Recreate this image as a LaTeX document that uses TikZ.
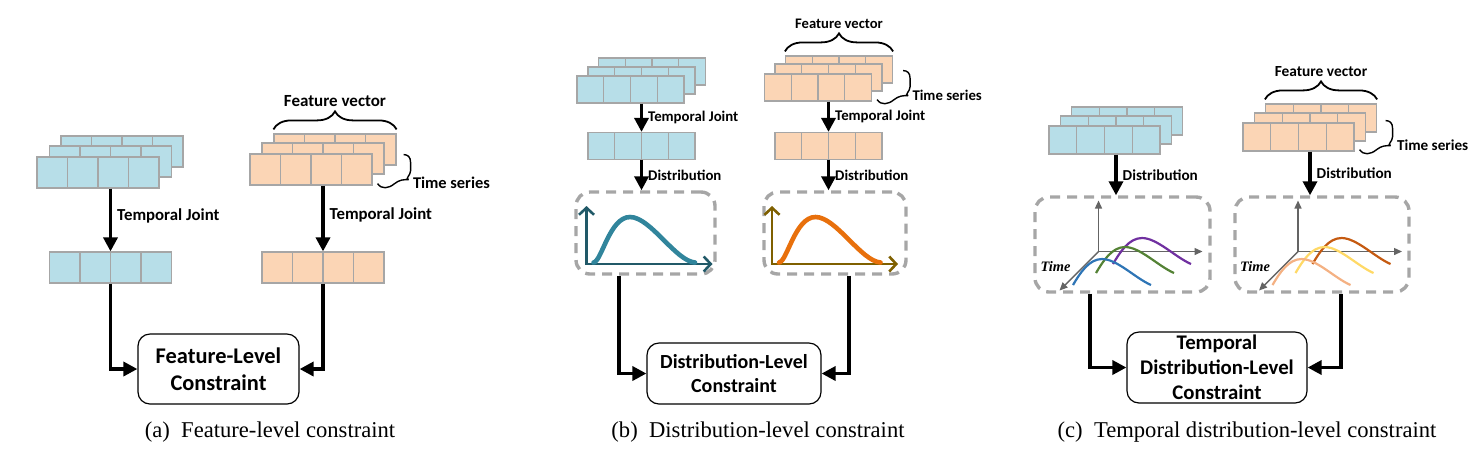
\documentclass[tikz,border=0pt]{standalone}
\usepackage{fontspec}
\setmainfont{Liberation Serif}
\newfontfamily\calibri{Carlito}
\usetikzlibrary{arrows.meta, calc, decorations.pathreplacing}

\definecolor{cellblue}{RGB}{183,222,232}
\definecolor{cellpeach}{RGB}{251,213,181}
\definecolor{cellgray}{RGB}{166,166,166}
\definecolor{dashgray}{RGB}{166,166,166}
\definecolor{axteal}{RGB}{33,89,104}
\definecolor{curveteal}{RGB}{49,133,156}
\definecolor{axolive}{RGB}{127,96,0}
\definecolor{curveorange}{RGB}{232,112,12}
\definecolor{axgray}{RGB}{100,100,100}
\definecolor{tblue}{RGB}{46,117,182}
\definecolor{tgreen}{RGB}{84,130,53}
\definecolor{tpurple}{RGB}{112,48,160}
\definecolor{tlight}{RGB}{244,177,131}
\definecolor{tyellow}{RGB}{255,217,102}
\definecolor{tdark}{RGB}{197,90,17}

\begin{document}
\begin{tikzpicture}[x=0.5pt, y=-0.5pt,
cellrow/.style={draw=cellgray, line width=0.6pt, inner sep=0pt,
  path picture={\foreach \k in {1,2,3}
    \draw[cellgray, line width=0.6pt]
      ($(path picture bounding box.south west)!\k/4!(path picture bounding box.south east)$) --
      ($(path picture bounding box.north west)!\k/4!(path picture bounding box.north east)$);}},
bluerow/.style={cellrow, fill=cellblue},
peachrow/.style={cellrow, fill=cellpeach},
asize/.style={minimum width=61pt, minimum height=15.5pt},
bsize/.style={minimum width=53.5pt, minimum height=13.5pt},
csize/.style={minimum width=55.5pt, minimum height=14pt},
arr/.style={line width=1.7pt, -{Triangle[length=7pt, width=7pt]}},
lbl/.style={midway, right, inner sep=2.5pt, font=\calibri\bfseries\fontsize{#1}{#1}\selectfont},
cbox/.style 2 args={draw, line width=0.6pt, rounded corners=6pt, align=center, inner sep=0pt,
  font=\calibri\bfseries\fontsize{#1}{#2}\selectfont},
dbox/.style={draw=dashgray, line width=1.7pt, dash pattern=on 5pt off 3.5pt, rounded corners=7pt, inner sep=0pt},
fvbrace/.style={decorate, decoration={brace, amplitude=9pt, raise=2pt}, line width=0.9pt},
fvlbl/.style={midway, above=12pt, inner sep=1pt, font=\calibri\bfseries\fontsize{#1}{#1}\selectfont},
tslbl/.style={anchor=west, inner sep=1pt, font=\calibri\bfseries\fontsize{#1}{#1}\selectfont},
captext/.style={font=\fontsize{11.3}{13}\selectfont},
tsbrace/.pic={
  \draw[line width=0.7pt] (5,-2) .. controls (9,4) and (16,3) .. (22,-2) .. controls (27,-6) and (31,-6) .. (36,-6);
  \draw[line width=0.7pt] (36,-6) .. controls (32,-7) and (38,-10) .. (38,-15) -- (38,-23) .. controls (38,-29) and (35,-31) .. (31,-31);
},
pics/distplot/.style 2 args={code={
  \draw[#1, line width=1.3pt, {Straight Barb[length=3.5pt, width=7.5pt]}-{Straight Barb[length=3.5pt, width=7.5pt]}]
    (-59,-27) -- (-59,31) -- (67,31);
  \draw[#2, line width=2.3pt, line cap=round] (-52,29.5) .. controls (-44,29) and (-36,-16) .. (-15.5,-16)
    .. controls (5,-16) and (30,28) .. (49.5,29.5);
}},
pics/timeplot/.style n args={3}{code={
  \draw[axgray, line width=0.7pt, -{Triangle[length=4pt, width=3.5pt]}] (-24,7) -- (-24,-44);
  \draw[axgray, line width=0.7pt, -{Triangle[length=4pt, width=3.5pt]}] (-24,7) -- (80,7);
  \draw[axgray, line width=0.7pt, -{Triangle[length=4pt, width=3.5pt]}] (-24,7) -- (-63,46);
  \draw[#3, line width=1.1pt, shift={(19.5,-6.5)}] (-29,26) .. controls (-22,14) and (-13,0) .. (0,0) .. controls (15,0) and (33,19) .. (49,26);
  \draw[#2, line width=1.1pt, shift={(2.5,2.5)}] (-29,26) .. controls (-22,14) and (-13,0) .. (0,0) .. controls (15,0) and (33,19) .. (49,26);
  \draw[#1, line width=1.1pt, shift={(-20.5,14.5)}] (-29,26) .. controls (-22,14) and (-13,0) .. (0,0) .. controls (15,0) and (33,19) .. (49,26);
  \node[font=\bfseries\itshape\fontsize{7.2}{7.2}\selectfont, inner sep=0pt] (-time) at (-67,22) {Time};
}}
]
\useasboundingbox (0,0) rectangle (1481,463);

%Nodes (a)
\node[bluerow, asize]  (alt) at (122,151.5) {};
\node[bluerow, asize]  (alm) at (110.5,161.5) {};
\node[bluerow, asize]  (alf) at (98,172.5) {};
\node[bluerow, asize]  (alj) at (110.5,267.5) {};
\node[peachrow, asize] (art) at (335,149.5) {};
\node[peachrow, asize] (arm) at (323,158.5) {};
\node[peachrow, asize] (arf) at (311,169.5) {};
\node[peachrow, asize] (arj) at (323,267.5) {};
\node[cbox={11.2}{13.5}, minimum width=80.5pt, minimum height=35pt] (ac) at (218.5,369) {Feature-Level\\Constraint};
\node[tslbl=8.2] (ats) at ([shift={(38,-3)}]arf.south east) {Time series};
\node[captext] (capa) at (270,432) {(a)\enspace Feature-level constraint};
%Lines (a)
\draw[arr] (alf.south -| alj.north) -- (alj.north) node[lbl=8.4, yshift=2pt] {Temporal Joint};
\draw[arr] (arf.south -| arj.north) -- (arj.north) node[lbl=8.4, yshift=2pt] {Temporal Joint};
\draw[arr] (alj.south) |- (ac.west);
\draw[arr] (arj.south) |- (ac.east);
\draw[fvbrace] (art.north west) -- (art.north east) node[fvlbl=8.5] {Feature vector};
\pic at (arf.south east) {tsbrace};

%Nodes (b)
\node[bluerow, bsize]  (blt) at (652,71.5) {};
\node[bluerow, bsize]  (blm) at (641.5,80.5) {};
\node[bluerow, bsize]  (blf) at (630.5,89.5) {};
\node[bluerow, bsize]  (blj) at (641.5,146) {};
\node[peachrow, bsize] (brt) at (839,69.5) {};
\node[peachrow, bsize] (brm) at (828.5,77.5) {};
\node[peachrow, bsize] (brf) at (818,87.5) {};
\node[peachrow, bsize] (brj) at (828.5,146) {};
\node[dbox, minimum width=69.5pt, minimum height=41pt] (blp) at (645.5,233) {};
\node[dbox, minimum width=71pt, minimum height=41pt] (brp) at (835,233) {};
\node[cbox={10}{12}, minimum width=87pt, minimum height=30.5pt] (bc) at (734,373.5) {Distribution-Level\\Constraint};
\node[tslbl=7.4] (bts) at ([shift={(38,-6)}]brf.south east) {Time series};
\node[captext] (capb) at (758,432) {(b)\enspace Distribution-level constraint};
\pic (blplot) at (blp.center) {distplot={axteal}{curveteal}};
\pic (brplot) at ([xshift=-2pt]brp.center) {distplot={axolive}{curveorange}};
%Lines (b)
\draw[arr] (blf.south -| blj.north) -- (blj.north) node[lbl=7.4] {Temporal Joint};
\draw[arr] (brf.south -| brj.north) -- (brj.north) node[lbl=7.4] {Temporal Joint};
\draw[arr] (blj.south) -- (blj.south |- blp.north) node[lbl=7.4] {Distribution};
\draw[arr] (brj.south) -- (brj.south |- brp.north) node[lbl=7.4] {Distribution};
\draw[arr] ([xshift=-13.25pt]blp.south) |- (bc.west);
\draw[arr] ([xshift=7pt]brp.south) |- (bc.east);
\draw[fvbrace] (brt.north west) -- (brt.north east) node[fvlbl=7.3] {Feature vector};
\pic at (brf.south east) {tsbrace};

%Nodes (c)
\node[bluerow, csize]  (clt) at (1127,121) {};
\node[bluerow, csize]  (clm) at (1116,130) {};
\node[bluerow, csize]  (clf) at (1104.5,140) {};
\node[peachrow, csize] (crt) at (1321,118) {};
\node[peachrow, csize] (crm) at (1310,127) {};
\node[peachrow, csize] (crf) at (1298.5,137) {};
\node[dbox, minimum width=87.5pt, minimum height=47.5pt] (clp) at (1122.5,244.5) {};
\node[dbox, minimum width=87pt, minimum height=47.5pt] (crp) at (1322,244.5) {};
\node[cbox={10.4}{12.5}, minimum width=90pt, minimum height=35.5pt] (cc) at (1217,367.5) {Temporal\\Distribution-Level\\Constraint};
\node[tslbl=7.6] (cts) at ([shift={(40,-6)}]crf.south east) {Time series};
\node[captext] (capc) at (1247,432) {(c)\enspace Temporal distribution-level constraint};
\pic (clplot) at (clp.center) {timeplot={tblue}{tgreen}{tpurple}};
\pic (crplot) at (crp.center) {timeplot={tlight}{tyellow}{tdark}};
%Lines (c)
\draw[arr] (clf.south -| clm) -- (clm |- clp.north) node[lbl=7.6] {Distribution};
\draw[arr] (crf.south -| crm) -- (crm |- crp.north) node[lbl=7.6] {Distribution};
\draw[arr] ([xshift=-16.25pt]clp.south) |- (cc.west);
\draw[arr] ([xshift=9.5pt]crp.south) |- (cc.east);
\draw[fvbrace] (crt.north west) -- (crt.north east) node[fvlbl=7.7] {Feature vector};
\pic at (crf.south east) {tsbrace};
\end{tikzpicture}
\end{document}
